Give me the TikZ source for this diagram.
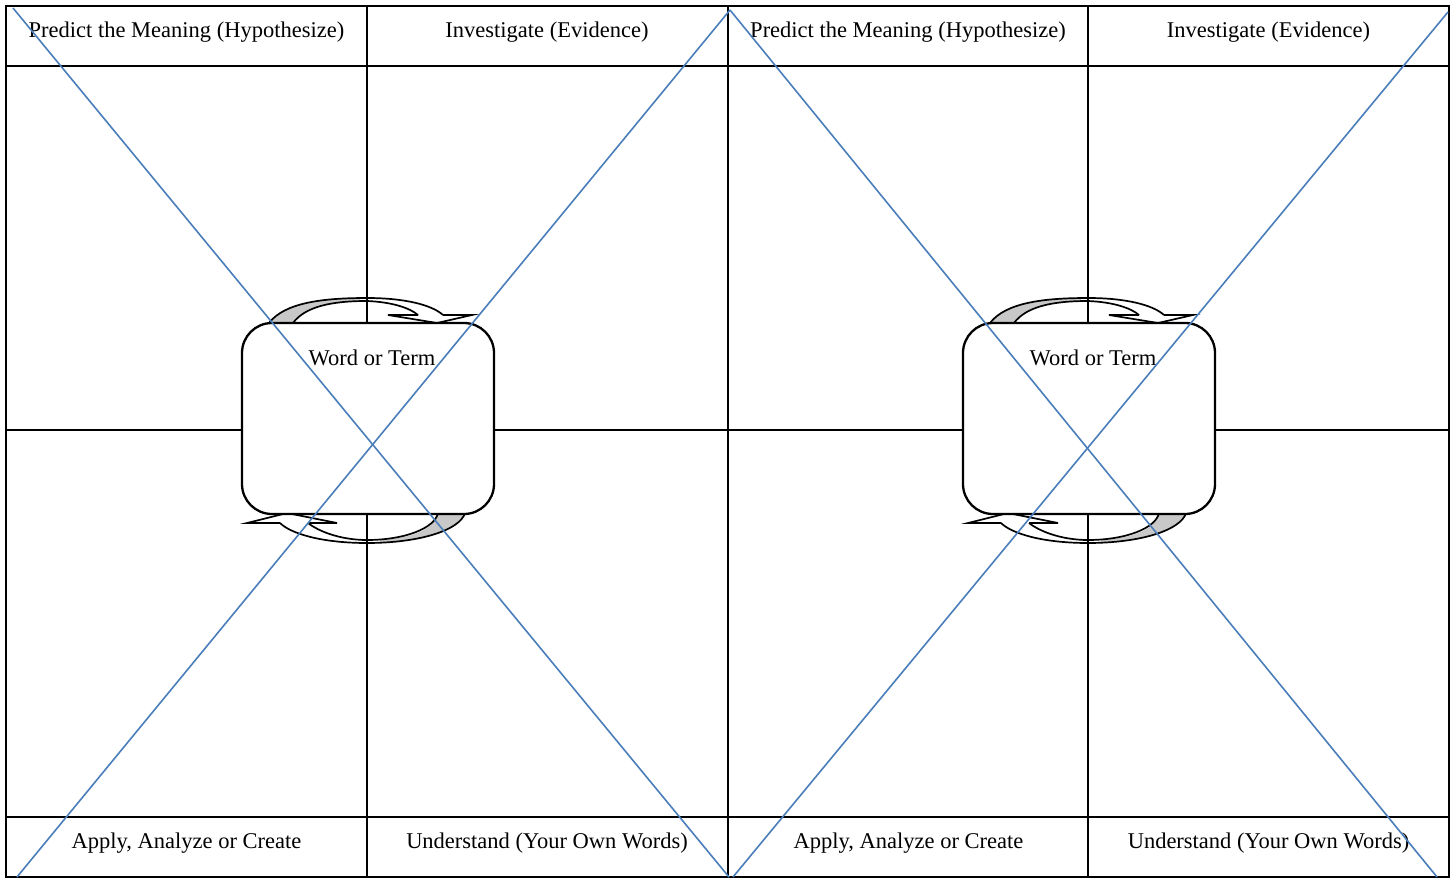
\documentclass[tikz,border=0pt]{standalone}
\usepackage{fontspec}
\setmainfont{Liberation Serif}
\definecolor{diagblue}{HTML}{4A7EBB}
\definecolor{arrowgrey}{HTML}{C8C8C8}
\begin{document}
\begin{tikzpicture}[x=1pt,y=-1pt,
  gridline/.style={line width=2.5pt, black},
  diag/.style={line width=1.6pt, diagblue},
  wbox/.style={draw, line width=2.3pt, fill=white, rounded corners=30pt, minimum width=252pt, minimum height=191pt, inner sep=0pt},
  lbl/.style={font=\fontsize{22.5}{27}\selectfont, anchor=base, inner sep=0pt},
  arr/.style={line width=1.7pt, line join=miter}]
\useasboundingbox (0,0) rectangle (1452,878);
\fill[white] (0,0) rectangle (1452,878);
% circular arrows
\foreach \dx in {0,721}{
\begin{scope}[xshift=\dx pt]
  \fill[arrowgrey] (269,323) .. controls (285,302) and (325,298) .. (360,298) -- (360,301) .. controls (328,301) and (305,307) .. (293,323) -- cycle;
  \draw[arr] (269,323) .. controls (285,302) and (325,298) .. (367,298) .. controls (405,298) and (432,305) .. (443,315);
  \draw[arr] (293,323) .. controls (305,307) and (330,301) .. (367,301) .. controls (392,302) and (410,308) .. (418,315);
  \draw[arr] (418,315) -- (388,315) -- (437,323) -- (472,315) -- (443,315);
  \fill[arrowgrey] (465,513) .. controls (460,530) and (420,541) .. (380,543) -- (380,540) .. controls (415,538) and (435,528) .. (438,513) -- cycle;
  \draw[arr] (465,513) .. controls (460,530) and (420,543) .. (367,543) .. controls (320,543) and (290,533) .. (280,523);
  \draw[arr] (438,513) .. controls (435,528) and (405,540) .. (367,540) .. controls (340,540) and (318,531) .. (308,523);
  \draw[arr] (280,523) -- (247,523) -- (287,513) -- (337,523) -- (308,523);
\end{scope}}
% grid
\draw[gridline] (6,6) rectangle (1449,877);
\draw[gridline] (6,66) -- (1449,66);
\draw[gridline] (6,430) -- (1449,430);
\draw[gridline] (6,817) -- (1449,817);
\draw[gridline] (367,6) -- (367,877);
\draw[gridline] (728,6) -- (728,877);
\draw[gridline] (1088,6) -- (1088,877);
% boxes
\node[wbox] (boxL) at (368,418.5) {};
\node[wbox] (boxR) at (1089,418.5) {};
\node[lbl] (wordL) at (372,365) {Word or Term};
\node[lbl] (wordR) at (1093,365) {Word or Term};
% headers
\node[lbl] (h1) at (186.5,37) {Predict the Meaning (Hypothesize)};
\node[lbl] (h2) at (547,37) {Investigate (Evidence)};
\node[lbl] (h3) at (908,37) {Predict the Meaning (Hypothesize)};
\node[lbl] (h4) at (1268.5,37) {Investigate (Evidence)};
% footers
\node[lbl] (f1) at (186.5,848) {Apply, Analyze or Create};
\node[lbl] (f2) at (547,848) {Understand (Your Own Words)};
\node[lbl] (f3) at (908.5,848) {Apply, Analyze or Create};
\node[lbl] (f4) at (1268.5,848) {Understand (Your Own Words)};
% diagonals
\draw[diag] (13,8) -- (729,877);
\draw[diag] (730,10) -- (17,877);
\draw[diag] (730,10) -- (1437,877);
\draw[diag] (1448,12) -- (733,877);
\end{tikzpicture}
\end{document}
